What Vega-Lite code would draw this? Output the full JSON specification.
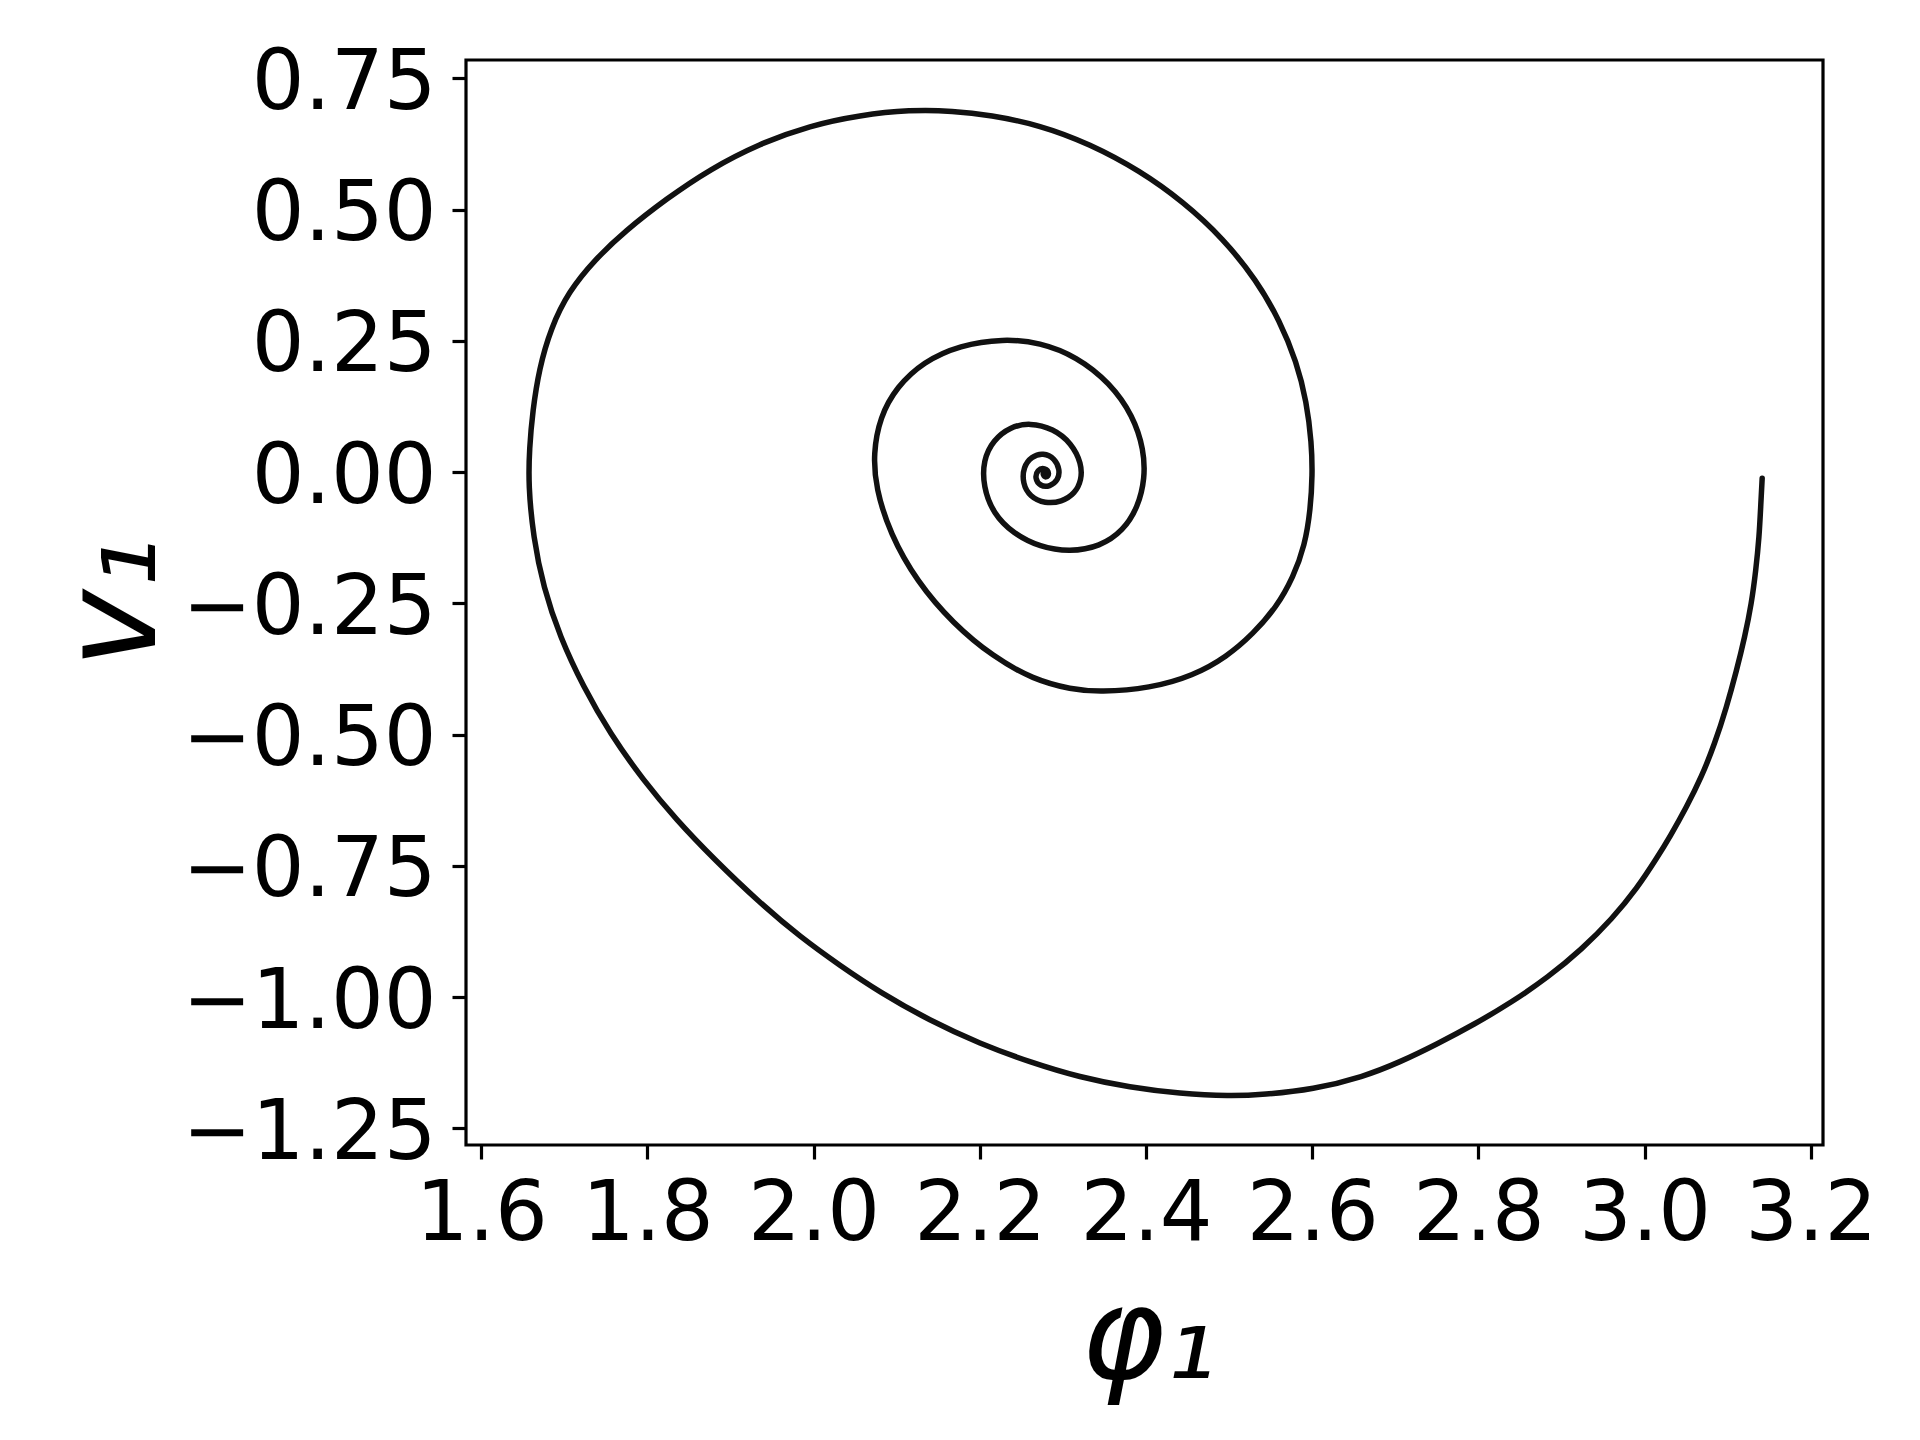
{
  "$schema": "https://vega.github.io/schema/vega-lite/v6.json",
  "autosize": {"type": "none"},
  "padding": {"left": 466, "top": 60, "right": 97, "bottom": 295},
  "width": 1357,
  "height": 1085,
  "background": "white",
  "config": {
    "font": "DejaVu Sans",
    "view": {"stroke": "black", "strokeWidth": 3.2}
  },
  "data": {
    "values": [
      {"t": 1, "phi": 3.1415, "v": -0.012},
      {"t": 2, "phi": 3.1399, "v": -0.060},
      {"t": 3, "phi": 3.1379, "v": -0.124},
      {"t": 4, "phi": 3.1339, "v": -0.187},
      {"t": 5, "phi": 3.1287, "v": -0.250},
      {"t": 6, "phi": 3.1206, "v": -0.314},
      {"t": 7, "phi": 3.1107, "v": -0.378},
      {"t": 8, "phi": 3.0986, "v": -0.448},
      {"t": 9, "phi": 3.0845, "v": -0.517},
      {"t": 10, "phi": 3.0685, "v": -0.581},
      {"t": 11, "phi": 3.0505, "v": -0.638},
      {"t": 12, "phi": 3.0304, "v": -0.695},
      {"t": 13, "phi": 3.0144, "v": -0.736},
      {"t": 14, "phi": 2.9913, "v": -0.792},
      {"t": 15, "phi": 2.9610, "v": -0.851},
      {"t": 16, "phi": 2.9245, "v": -0.909},
      {"t": 17, "phi": 2.8840, "v": -0.962},
      {"t": 18, "phi": 2.8400, "v": -1.010},
      {"t": 19, "phi": 2.7950, "v": -1.052},
      {"t": 20, "phi": 2.7497, "v": -1.090},
      {"t": 21, "phi": 2.7055, "v": -1.124},
      {"t": 22, "phi": 2.6614, "v": -1.152},
      {"t": 23, "phi": 2.6012, "v": -1.176},
      {"t": 24, "phi": 2.5411, "v": -1.186},
      {"t": 25, "phi": 2.5010, "v": -1.189},
      {"t": 26, "phi": 2.4408, "v": -1.184},
      {"t": 27, "phi": 2.3806, "v": -1.172},
      {"t": 28, "phi": 2.3205, "v": -1.153},
      {"t": 29, "phi": 2.2603, "v": -1.124},
      {"t": 30, "phi": 2.2002, "v": -1.089},
      {"t": 31, "phi": 2.1399, "v": -1.045},
      {"t": 32, "phi": 2.0798, "v": -0.991},
      {"t": 33, "phi": 2.0317, "v": -0.940},
      {"t": 34, "phi": 1.9836, "v": -0.885},
      {"t": 35, "phi": 1.9355, "v": -0.821},
      {"t": 36, "phi": 1.8793, "v": -0.736},
      {"t": 37, "phi": 1.8352, "v": -0.663},
      {"t": 38, "phi": 1.7950, "v": -0.587},
      {"t": 39, "phi": 1.7550, "v": -0.498},
      {"t": 40, "phi": 1.7229, "v": -0.409},
      {"t": 41, "phi": 1.6948, "v": -0.314},
      {"t": 42, "phi": 1.6747, "v": -0.219},
      {"t": 43, "phi": 1.6627, "v": -0.124},
      {"t": 44, "phi": 1.6567, "v": -0.025},
      {"t": 45, "phi": 1.6580, "v": 0.045},
      {"t": 46, "phi": 1.6618, "v": 0.115},
      {"t": 47, "phi": 1.6697, "v": 0.197},
      {"t": 48, "phi": 1.6838, "v": 0.274},
      {"t": 49, "phi": 1.7048, "v": 0.343},
      {"t": 50, "phi": 1.7370, "v": 0.405},
      {"t": 51, "phi": 1.7730, "v": 0.459},
      {"t": 52, "phi": 1.8232, "v": 0.521},
      {"t": 53, "phi": 1.8753, "v": 0.577},
      {"t": 54, "phi": 1.9355, "v": 0.626},
      {"t": 55, "phi": 1.9956, "v": 0.660},
      {"t": 56, "phi": 2.0558, "v": 0.680},
      {"t": 57, "phi": 2.1160, "v": 0.690},
      {"t": 58, "phi": 2.1680, "v": 0.688},
      {"t": 59, "phi": 2.2122, "v": 0.680},
      {"t": 60, "phi": 2.2724, "v": 0.661},
      {"t": 61, "phi": 2.3325, "v": 0.625},
      {"t": 62, "phi": 2.3927, "v": 0.574},
      {"t": 63, "phi": 2.4448, "v": 0.515},
      {"t": 64, "phi": 2.4929, "v": 0.445},
      {"t": 65, "phi": 2.5331, "v": 0.365},
      {"t": 66, "phi": 2.5611, "v": 0.288},
      {"t": 67, "phi": 2.5812, "v": 0.210},
      {"t": 68, "phi": 2.5933, "v": 0.134},
      {"t": 69, "phi": 2.5993, "v": 0.055},
      {"t": 70, "phi": 2.6003, "v": -0.005},
      {"t": 71, "phi": 2.5980, "v": -0.070},
      {"t": 72, "phi": 2.5912, "v": -0.140},
      {"t": 73, "phi": 2.5772, "v": -0.200},
      {"t": 74, "phi": 2.5572, "v": -0.257},
      {"t": 75, "phi": 2.5290, "v": -0.308},
      {"t": 76, "phi": 2.4970, "v": -0.352},
      {"t": 77, "phi": 2.4568, "v": -0.388},
      {"t": 78, "phi": 2.4047, "v": -0.412},
      {"t": 79, "phi": 2.3446, "v": -0.419},
      {"t": 80, "phi": 2.3100, "v": -0.414},
      {"t": 81, "phi": 2.2643, "v": -0.395},
      {"t": 82, "phi": 2.2162, "v": -0.352},
      {"t": 83, "phi": 2.1680, "v": -0.289},
      {"t": 84, "phi": 2.1240, "v": -0.208},
      {"t": 85, "phi": 2.0919, "v": -0.117},
      {"t": 86, "phi": 2.0748, "v": -0.030},
      {"t": 87, "phi": 2.0718, "v": 0.035},
      {"t": 88, "phi": 2.0798, "v": 0.105},
      {"t": 89, "phi": 2.0999, "v": 0.162},
      {"t": 90, "phi": 2.1319, "v": 0.210},
      {"t": 91, "phi": 2.1761, "v": 0.242},
      {"t": 92, "phi": 2.2282, "v": 0.254},
      {"t": 93, "phi": 2.2724, "v": 0.247},
      {"t": 94, "phi": 2.3165, "v": 0.220},
      {"t": 95, "phi": 2.3566, "v": 0.170},
      {"t": 96, "phi": 2.3846, "v": 0.107},
      {"t": 97, "phi": 2.3975, "v": 0.042},
      {"t": 98, "phi": 2.3987, "v": -0.012},
      {"t": 99, "phi": 2.3906, "v": -0.066},
      {"t": 100, "phi": 2.3726, "v": -0.112},
      {"t": 101, "phi": 2.3446, "v": -0.142},
      {"t": 102, "phi": 2.3085, "v": -0.152},
      {"t": 103, "phi": 2.2724, "v": -0.143},
      {"t": 104, "phi": 2.2402, "v": -0.117},
      {"t": 105, "phi": 2.2162, "v": -0.079},
      {"t": 106, "phi": 2.2041, "v": -0.028},
      {"t": 107, "phi": 2.2041, "v": 0.023},
      {"t": 108, "phi": 2.2162, "v": 0.061},
      {"t": 109, "phi": 2.2363, "v": 0.086},
      {"t": 110, "phi": 2.2603, "v": 0.094},
      {"t": 111, "phi": 2.2884, "v": 0.083},
      {"t": 112, "phi": 2.3105, "v": 0.055},
      {"t": 113, "phi": 2.3225, "v": 0.016},
      {"t": 114, "phi": 2.3225, "v": -0.015},
      {"t": 115, "phi": 2.3145, "v": -0.041},
      {"t": 116, "phi": 2.2985, "v": -0.057},
      {"t": 117, "phi": 2.2784, "v": -0.060},
      {"t": 118, "phi": 2.2603, "v": -0.047},
      {"t": 119, "phi": 2.2515, "v": -0.022},
      {"t": 120, "phi": 2.2523, "v": 0.010},
      {"t": 121, "phi": 2.2624, "v": 0.030},
      {"t": 122, "phi": 2.2763, "v": 0.037},
      {"t": 123, "phi": 2.2904, "v": 0.026},
      {"t": 124, "phi": 2.2964, "v": 0.004},
      {"t": 125, "phi": 2.2944, "v": -0.015},
      {"t": 126, "phi": 2.2844, "v": -0.028},
      {"t": 127, "phi": 2.2724, "v": -0.027},
      {"t": 128, "phi": 2.2663, "v": -0.012},
      {"t": 129, "phi": 2.2691, "v": 0.004},
      {"t": 130, "phi": 2.2784, "v": 0.009},
      {"t": 131, "phi": 2.2844, "v": -0.003},
      {"t": 132, "phi": 2.2796, "v": -0.012},
      {"t": 133, "phi": 2.2756, "v": -0.004},
      {"t": 134, "phi": 2.2770, "v": -0.001}
    ]
  },
  "mark": {
    "type": "line",
    "interpolate": "basis",
    "color": "#111111",
    "strokeWidth": 5.5,
    "strokeCap": "round",
    "strokeJoin": "round"
  },
  "encoding": {
    "order": {"field": "t", "type": "quantitative"},
    "x": {
      "field": "phi",
      "type": "quantitative",
      "scale": {"domain": [1.5817, 3.2147], "nice": false, "zero": false},
      "axis": {
        "values": [1.6, 1.8, 2.0, 2.2, 2.4, 2.6, 2.8, 3.0, 3.2],
        "format": ".1f",
        "title": "φ₁",
        "domain": false,
        "grid": false,
        "ticks": true,
        "tickSize": 14,
        "tickWidth": 3.2,
        "tickColor": "black",
        "labelFont": "DejaVu Sans",
        "labelFontSize": 83,
        "labelColor": "black",
        "labelBaseline": "alphabetic",
        "labelPadding": 80,
        "labelLimit": 500,
        "labelFlush": false,
        "labelOverlap": false,
        "labelBound": false,
        "titleFont": "DejaVu Sans",
        "titleFontSize": 128,
        "titleFontStyle": "italic",
        "titleFontWeight": "normal",
        "titleColor": "black",
        "titleBaseline": "alphabetic",
        "titleAlign": "center",
        "titleX": 682,
        "titleY": 232
      }
    },
    "y": {
      "field": "v",
      "type": "quantitative",
      "scale": {"domain": [-1.2818, 0.7849], "nice": false, "zero": false},
      "axis": {
        "values": [-1.25, -1.0, -0.75, -0.5, -0.25, 0.0, 0.25, 0.5, 0.75],
        "format": ".2f",
        "title": "v₁",
        "domain": false,
        "grid": false,
        "ticks": true,
        "tickSize": 14,
        "tickWidth": 3.2,
        "tickColor": "black",
        "labelFont": "DejaVu Sans",
        "labelFontSize": 83,
        "labelColor": "black",
        "labelAlign": "right",
        "labelBaseline": "alphabetic",
        "labelOffset": 30,
        "labelPadding": 16,
        "labelLimit": 500,
        "labelFlush": false,
        "labelOverlap": false,
        "labelBound": false,
        "titleFont": "DejaVu Sans",
        "titleFontSize": 132,
        "titleFontStyle": "italic",
        "titleFontWeight": "normal",
        "titleColor": "black",
        "titleAngle": 270,
        "titleBaseline": "alphabetic",
        "titleAlign": "center",
        "titleX": -312,
        "titleY": 542
      }
    }
  }
}
